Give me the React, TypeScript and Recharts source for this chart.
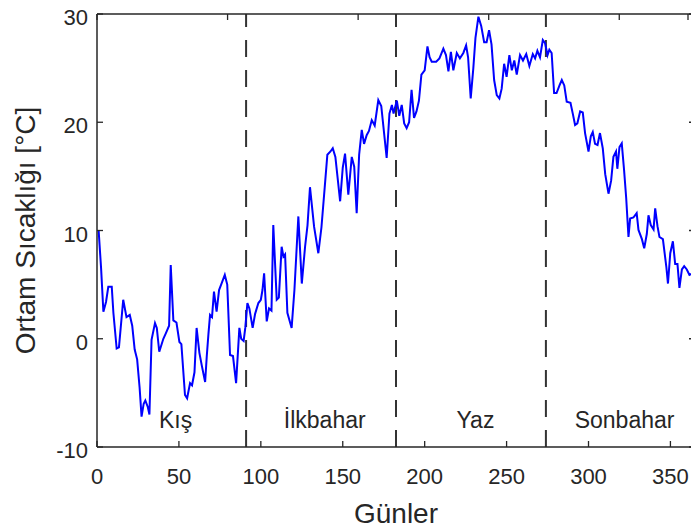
import { LineChart, Line, XAxis, YAxis, ReferenceLine, ReferenceDot, Label } from "recharts";

// günlük ortam sıcaklığı, grafikten okunan kırılma noktaları
const days = [
  1, 2.5, 3.9, 5.5, 6.9, 9, 10, 12, 13.4, 16, 18, 20, 21.5, 23, 24.5, 26, 27.2, 28.5, 29.5, 31, 32,
  33.3, 35.4, 36.5, 38, 40.5, 42, 44, 45, 46.6, 48.5, 50.3, 51.5, 53.7, 55, 56.8, 58, 59.5, 60.8,
  62.5, 64, 66, 67, 68, 69, 70.2, 71.4, 73, 74.5, 76, 78, 79.5, 81.2, 83, 84.9, 86.9, 88, 89.5,
  90.5, 91.8, 93, 95, 96.5, 98.5, 100, 101, 102, 103.6, 105, 106.5, 107.6, 109.7, 111, 112.7,
  113.8, 114.8, 116.2, 118.8, 120.5, 122.9, 125, 127, 128.5, 130, 132.5, 135.1, 137, 139, 140.6,
  142.5, 143.9, 145.5, 148.4, 150, 151.4, 153.4, 155.5, 157, 158.5, 160, 161.6, 163, 164.6, 166,
  167.7, 169.5, 171.7, 173.5, 176.8, 178.5, 180, 181, 183, 184.5, 186, 187.5, 189, 190.5, 192,
  193.5, 195, 196.5, 198, 200, 201.7, 203, 204.3, 207, 209, 211.4, 213, 214.5, 216, 217.5, 219.6,
  221.5, 223.6, 225.3, 226.5, 228.1, 229.7, 231, 232.8, 234.5, 236.3, 237.8, 239.3, 240.8, 242.4,
  244, 245.6, 247, 248.5, 250, 251.7, 253.2, 254.7, 256.2, 258.2, 260, 262, 263.9, 266, 267.4,
  268.8, 270.4, 272.1, 273.5, 275, 276.1, 277.5, 279, 280.5, 282.3, 283.7, 285.2, 286.7, 289,
  290.4, 291.8, 293.2, 294.9, 296.5, 297.9, 300, 301.4, 302.6, 304, 305.5, 307, 308.7, 310.2,
  312.2, 313.8, 315.2, 316.8, 317.6, 318.9, 320.3, 321.7, 323, 324.4, 325.4, 327.4, 328.4, 329.4,
  330.5, 332.6, 334, 335.6, 336.6, 338, 339.7, 340.7, 342.1, 343.3, 345.4, 347.5, 348.5, 349.9,
  351.5, 352.9, 354.3, 355.5, 357, 358.4, 360, 361.6, 363, 365,
];

const temps = [
  10.0, 6.5, 2.5, 3.4, 4.8, 4.8, 2.4, -0.9, -0.8, 3.6, 2.0, 2.2, 1.2, -1.0, -1.9, -4.5, -7.2, -6.0,
  -5.7, -6.3, -7.0, -0.1, 1.45, 1.0, -1.2, 0.0, 0.5, 1.2, 6.8, 1.7, 1.5, -0.3, -0.5, -5.2, -5.5,
  -4.1, -4.3, -3.1, 1.0, -1.3, -2.5, -4.0, -1.6, 0.4, 2.2, 2.0, 4.35, 2.5, 4.5, 5.1, 5.9, 5.0, -1.5,
  -1.6, -4.1, 1.0, 0.0, -0.2, 1.0, 3.3, 2.8, 1.0, 2.3, 3.3, 3.6, 4.5, 6.05, 1.6, 2.8, 2.6, 10.5,
  3.6, 3.8, 8.5, 7.6, 7.8, 2.4, 1.0, 4.5, 11.3, 5.1, 8.5, 10.5, 14.0, 10.35, 7.9, 10.3, 14.0, 17.0,
  17.3, 17.6, 16.8, 12.7, 15.8, 17.1, 13.3, 16.8, 15.9, 11.6, 17.0, 19.3, 18.0, 18.8, 19.2, 20.2,
  19.7, 22.05, 21.5, 16.7, 20.8, 21.6, 20.8, 22.0, 20.6, 21.6, 19.9, 19.45, 20.0, 23.0, 20.4, 21.0,
  22.0, 24.4, 24.8, 27.0, 26.0, 25.6, 25.6, 25.9, 26.8, 26.2, 24.7, 26.5, 24.8, 26.4, 25.9, 26.4,
  27.1, 26.0, 22.2, 25.0, 27.8, 29.75, 28.9, 27.4, 27.4, 28.5, 27.2, 23.9, 22.5, 22.2, 23.1, 25.4,
  24.2, 26.2, 24.8, 25.7, 24.4, 26.2, 25.7, 26.3, 25.2, 26.3, 25.9, 26.6, 26.0, 27.6, 27.3, 26.2,
  26.7, 26.4, 22.7, 22.7, 23.4, 23.9, 23.4, 21.9, 21.8, 20.8, 19.75, 19.9, 21.0, 20.9, 19.0, 17.3,
  18.7, 19.1, 18.0, 17.9, 19.0, 17.6, 15.2, 13.4, 14.6, 16.8, 17.3, 15.7, 17.7, 18.05, 15.6, 13.0,
  9.4, 11.1, 11.2, 11.4, 11.6, 10.05, 9.2, 8.35, 9.7, 11.4, 10.5, 10.1, 12.05, 10.4, 9.4, 9.2,
  6.65, 5.1, 7.9, 9.0, 6.9, 6.9, 4.7, 6.4, 6.7, 6.4, 5.9, 6.0, 5.7,
];

const xTicks = [0, 50, 100, 150, 200, 250, 300, 350];
const yTicks = [-10, 0, 10, 20, 30];
const seasonBounds = [91, 182.5, 274];
const seasonNames = ["Kış", "İlkbahar", "Yaz", "Sonbahar"];
const seasonLabelDays = [48, 139, 231, 322];

const data = days.map((d, i) => ({ day: d, temp: temps[i] }));

const AXIS = "#262626";
const FONT = "'Liberation Sans', Arial, Helvetica, sans-serif";
const TICK_LEN = 6;

function BottomTick(props: any) {
  const { x, y, payload } = props;
  const axisY = y - 21;
  return (
    <g>
      <line x1={x} y1={axisY} x2={x} y2={axisY - TICK_LEN} stroke={AXIS} strokeWidth={1.3} />
      <text x={x} y={y} dy={16} textAnchor="middle" fontSize={22} fill={AXIS} fontFamily={FONT}>
        {payload.value}
      </text>
    </g>
  );
}

function TopTick(props: any) {
  const { x, y } = props;
  return <line x1={x} y1={y} x2={x} y2={y + TICK_LEN} stroke={AXIS} strokeWidth={1.3} />;
}

function LeftTick(props: any) {
  const { x, y, payload } = props;
  const axisX = x + 9;
  return (
    <g>
      <line x1={axisX} y1={y} x2={axisX + TICK_LEN} y2={y} stroke={AXIS} strokeWidth={1.3} />
      <text x={x} y={y} dy={11} textAnchor="end" fontSize={22} fill={AXIS} fontFamily={FONT}>
        {payload.value}
      </text>
    </g>
  );
}

function RightTick(props: any) {
  const { x, y } = props;
  return <line x1={x} y1={y} x2={x - TICK_LEN} y2={y} stroke={AXIS} strokeWidth={1.3} />;
}

export default function App() {
  return (
    <div
      style={{
        position: "absolute",
        left: 0,
        top: 0,
        width: 691,
        height: 529,
        overflow: "hidden",
        background: "#fff",
      }}
    >
      <LineChart width={700} height={529} data={data} margin={{ top: 13, right: 4, bottom: 0, left: 0 }}>
        <XAxis
          xAxisId="b"
          dataKey="day"
          type="number"
          domain={[0, 365]}
          ticks={xTicks}
          allowDataOverflow
          height={82}
          tickLine={false}
          tickSize={0}
          tickMargin={21}
          tick={<BottomTick />}
          axisLine={{ stroke: AXIS, strokeWidth: 1.5 }}
        >
          <Label
            value="Günler"
            position="insideBottom"
            offset={6}
            style={{ fontSize: 28, fill: AXIS, fontFamily: FONT }}
          />
        </XAxis>
        <XAxis
          xAxisId="t"
          orientation="top"
          type="number"
          domain={[0, 365]}
          ticks={xTicks}
          allowDataOverflow
          height={1}
          tickLine={false}
          tickSize={0}
          tickMargin={0}
          tick={<TopTick />}
          axisLine={{ stroke: AXIS, strokeWidth: 1.5 }}
        />
        <YAxis
          yAxisId="l"
          type="number"
          domain={[-10, 30]}
          ticks={yTicks}
          allowDataOverflow
          width={97}
          tickLine={false}
          tickSize={0}
          tickMargin={9}
          tick={<LeftTick />}
          axisLine={{ stroke: AXIS, strokeWidth: 1.5 }}
        >
          <Label
            value="Ortam Sıcaklığı [°C]"
            angle={-90}
            position="insideLeft"
            offset={25}
            style={{ fontSize: 28, fill: AXIS, fontFamily: FONT, textAnchor: "middle" }}
          />
        </YAxis>
        <YAxis
          yAxisId="r"
          orientation="right"
          type="number"
          domain={[-10, 30]}
          ticks={yTicks}
          allowDataOverflow
          width={1}
          tickLine={false}
          tickSize={0}
          tickMargin={0}
          tick={<RightTick />}
          axisLine={{ stroke: AXIS, strokeWidth: 1.5 }}
        />
        {seasonBounds.map((d) => (
          <ReferenceLine
            key={d}
            xAxisId="b"
            yAxisId="l"
            x={d}
            stroke="#333"
            strokeWidth={2}
            strokeDasharray="17 13"
          />
        ))}
        {seasonNames.map((name, i) => (
          <ReferenceDot
            key={name}
            xAxisId="b"
            yAxisId="l"
            x={seasonLabelDays[i]}
            y={-7.5}
            r={0}
            fill="none"
            stroke="none"
            label={{
              value: name,
              position: "center",
              style: { fontSize: 23, fill: AXIS, fontFamily: FONT },
            }}
          />
        ))}
        <Line
          xAxisId="b"
          yAxisId="l"
          dataKey="temp"
          type="linear"
          stroke="#0000ff"
          strokeWidth={2}
          dot={false}
          isAnimationActive={false}
        />
      </LineChart>
    </div>
  );
}
